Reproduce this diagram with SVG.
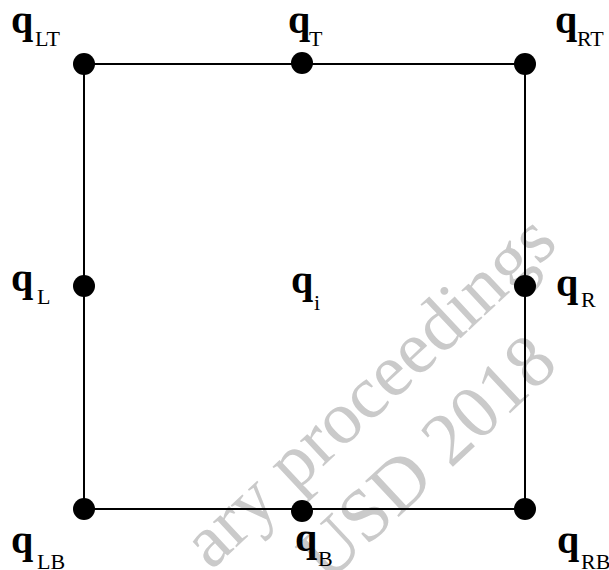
<svg xmlns="http://www.w3.org/2000/svg" width="609" height="570" viewBox="0 0 609 570">
<style>
.q{font-family:"Liberation Serif",serif;font-weight:bold;font-size:40px;fill:#000}
.s{font-family:"Liberation Serif",serif;font-size:22px;fill:#000}
.wm{font-family:"Liberation Serif",serif;font-size:75px;fill:#cacaca}
</style>
<rect width="609" height="570" fill="#fff"/>
<g id="watermark">
<text class="wm" transform="translate(211,571) rotate(-43)">ary proceedings</text>
<text class="wm" transform="translate(327,584) rotate(-43)">USD 2018</text>
</g>
<g id="edges" stroke="#000" stroke-width="2" fill="none">
<rect x="84" y="64" width="441" height="445"/>
</g>
<g id="nodes" fill="#000">
<g id="LT"><circle cx="84" cy="64" r="11"/><text class="q" x="11" y="33">q</text><text class="s" x="35" y="46">LT</text></g>
<g id="T"><circle cx="302" cy="63" r="11"/><text class="q" x="288" y="33">q</text><text class="s" x="309" y="46">T</text></g>
<g id="RT"><circle cx="525" cy="64" r="11"/><text class="q" x="555" y="33">q</text><text class="s" x="577" y="46">RT</text></g>
<g id="L"><circle cx="84" cy="286" r="11"/><text class="q" x="11" y="291">q</text><text class="s" x="37" y="304">L</text></g>
<g id="i"><text class="q" x="291" y="293">q</text><text class="s" x="314" y="310">i</text></g>
<g id="R"><circle cx="525" cy="286" r="11"/><text class="q" x="556" y="296">q</text><text class="s" x="581" y="307">R</text></g>
<g id="LB"><circle cx="84" cy="509" r="11"/><text class="q" x="11" y="553">q</text><text class="s" x="37" y="569">LB</text></g>
<g id="B"><circle cx="302" cy="511" r="11"/><text class="q" x="295" y="551">q</text><text class="s" x="318" y="566">B</text></g>
<g id="RB"><circle cx="525" cy="509" r="11"/><text class="q" x="557" y="553">q</text><text class="s" x="581" y="569">RB</text></g>
</g>
</svg>
